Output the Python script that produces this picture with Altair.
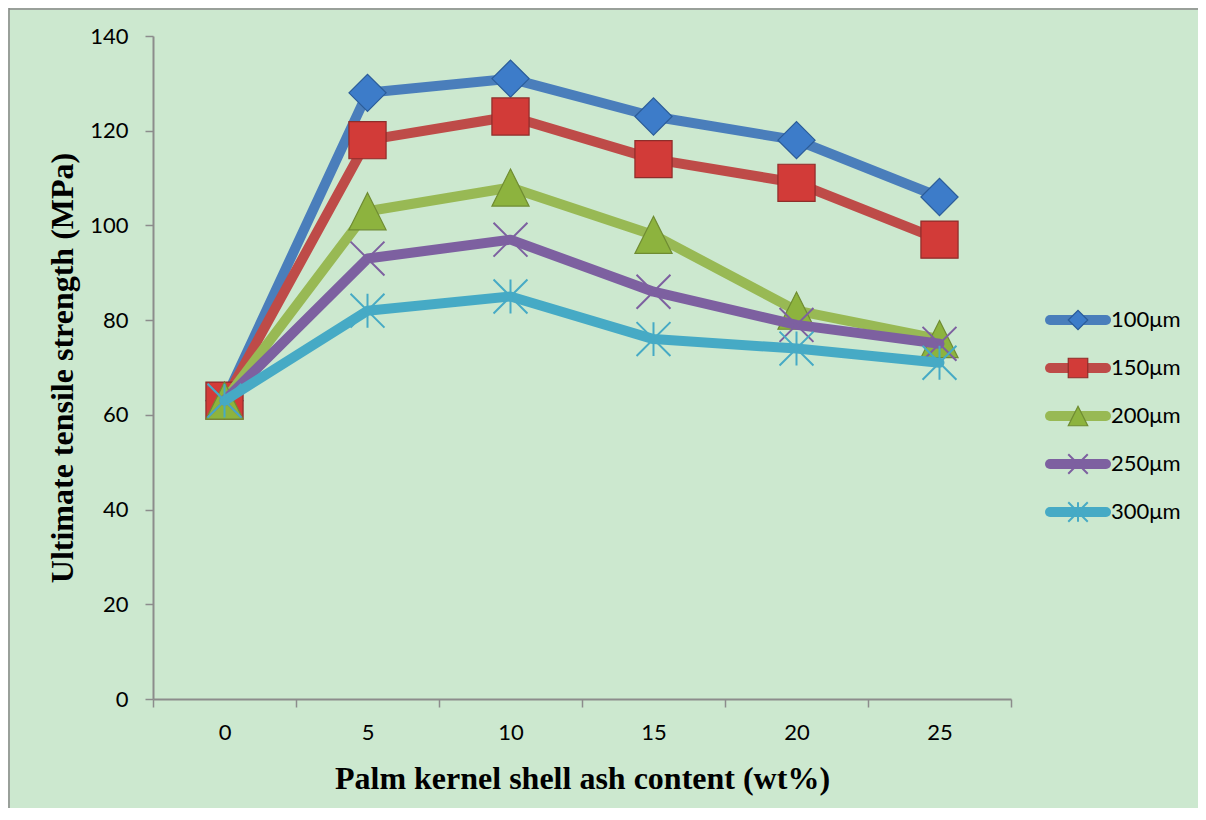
import altair as alt
import pandas as pd

# ---- data ----
ash_content = [0, 5, 10, 15, 20, 25]
series_names = ["100μm", "150μm", "200μm", "250μm", "300μm"]
uts_100 = [63, 128, 131, 123, 118, 106]
uts_150 = [63, 118, 123, 114, 109, 97]
uts_200 = [63, 103, 108, 98, 82, 76]
uts_250 = [63, 93, 97, 86, 79, 75]
uts_300 = [63, 82, 85, 76, 74, 71]
y_ticks = [0, 20, 40, 60, 80, 100, 120, 140]
x_bounds = [-2.5, 2.5, 7.5, 12.5, 17.5, 22.5, 27.5]
legend_order = [0, 1, 2, 3, 4]

all_series = [uts_100, uts_150, uts_200, uts_250, uts_300]
rows = []
for name, vals in zip(series_names, all_series):
    for xv, yv in zip(ash_content, vals):
        rows.append({"series": name, "content": xv, "uts": yv})
df = pd.DataFrame(rows)
leg_df = pd.DataFrame({"series": series_names, "order": legend_order})

# ---- styles ----
line_colors = ["#4A7EBB", "#BE4B48", "#98B954", "#7D60A0", "#46AAC5"]
marker_shapes = [
    "diamond",
    "square",
    "M0,-1L1,1L-1,1Z",
    "M-1,-1L1,1M-1,1L1,-1",
    "M-1,-1L1,1M-1,1L1,-1M0,-1L0,1",
]
marker_filled = [True, True, True, False, False]
marker_fill = ["#3D7CC9", "#D23B38", "#8DB33E", "none", "none"]
marker_stroke = ["#2B5C99", "#8E2D2A", "#6F8C32", "#7D60A0", "#46AAC5"]
marker_sw = [1.2, 1.2, 1.2, 2, 2]
BG = "#CCE8CF"
AXIS_GRAY = "#8C8C8C"

color_scale = alt.Scale(domain=series_names, range=line_colors)

x_enc = alt.X(
    "content:Q",
    scale=alt.Scale(domain=[-2.5, 27.5], nice=False, zero=False),
    axis=alt.Axis(
        values=x_bounds,
        labelExpr="datum.value < 27 ? format(datum.value + 2.5, 'd') : ''",
        labelOffset=71.5,
        labelFlush=False,
        labelOverlap=False,
        grid=False,
        tickSize=8,
        tickColor=AXIS_GRAY,
        tickWidth=1.5,
        domainColor=AXIS_GRAY,
        domainWidth=2,
        labelFont="Lato",
        labelFontSize=22,
        labelColor="black",
        labelPadding=15,
        title="Palm kernel shell ash content (wt%)",
        titleFont="Liberation Serif",
        titleFontSize=32,
        titleFontWeight="bold",
        titleColor="black",
        titleBaseline="alphabetic",
        titleY=89,
    ),
)
y_enc = alt.Y(
    "uts:Q",
    scale=alt.Scale(domain=[0, 140], nice=False),
    axis=alt.Axis(
        values=y_ticks,
        grid=False,
        tickSize=8,
        tickColor=AXIS_GRAY,
        tickWidth=1.5,
        domainColor=AXIS_GRAY,
        domainWidth=2,
        labelFont="Lato",
        labelFontSize=22,
        labelColor="black",
        labelPadding=17,
        title="Ultimate tensile strength (MPa)",
        titleFont="Liberation Serif",
        titleFontSize=32,
        titleFontWeight="bold",
        titleColor="black",
        titleBaseline="alphabetic",
        titleX=-81,
    ),
)

main_layers = []
for i, name in enumerate(series_names):
    base = alt.Chart(df).transform_filter(alt.datum.series == name)
    line = base.mark_line(strokeWidth=10, strokeJoin="round", strokeCap="round").encode(
        x=x_enc, y=y_enc, color=alt.Color("series:N", scale=color_scale, legend=None)
    )
    pts = base.mark_point(
        shape=marker_shapes[i],
        size=1380 if i < 3 else 1150,
        filled=marker_filled[i],
        fill=marker_fill[i],
        stroke=marker_stroke[i],
        strokeWidth=marker_sw[i],
        opacity=1,
    ).encode(x=x_enc, y=y_enc)
    main_layers += [line, pts]
main = alt.layer(*main_layers)

leg_y = alt.Y(
    "order:Q",
    scale=alt.Scale(domain=[0, 4], range=[284, 476], nice=False, zero=False),
    axis=None,
)
leg_layers = []
for i, name in enumerate(series_names):
    lb = alt.Chart(leg_df).transform_filter(alt.datum.series == name)
    rule = lb.mark_rule(strokeWidth=10, strokeCap="round").encode(
        x=alt.value(897), x2=alt.value(953), y=leg_y,
        color=alt.Color("series:N", scale=color_scale, legend=None),
    )
    sym = lb.mark_point(
        shape=marker_shapes[i],
        size=380,
        filled=marker_filled[i],
        fill=marker_fill[i],
        stroke=marker_stroke[i],
        strokeWidth=marker_sw[i],
        opacity=1,
    ).encode(x=alt.value(925), y=leg_y)
    leg_layers += [rule, sym]
leg_text = alt.Chart(leg_df).mark_text(
    align="left", baseline="middle", font="Lato", fontSize=22, color="black"
).encode(x=alt.value(958), y=leg_y, text="series:N")
leg_layers.append(leg_text)
legend = alt.layer(*leg_layers)

frame_df = pd.DataFrame({"k": [0]})
frame_v = alt.Chart(frame_df).mark_rule(color="#888888", strokeWidth=1.5).encode(
    x=alt.value(-144), y=alt.value(-28), y2=alt.value(772)
)
frame_h = alt.Chart(frame_df).mark_rule(color="#888888", strokeWidth=1.5).encode(
    y=alt.value(-27), x=alt.value(-144), x2=alt.value(1045)
)

chart = (
    alt.layer(main, legend, frame_v, frame_h)
    .resolve_scale(y="independent")
    .properties(
        width=858,
        height=663,
        autosize=alt.AutoSizeParams(type="none"),
        padding={"left": 145, "top": 28, "right": 187, "bottom": 109},
        background=BG,
    )
    .configure_view(stroke=None)
)

chart.save("out.html", embed_options={"renderer": "svg", "actions": False})
